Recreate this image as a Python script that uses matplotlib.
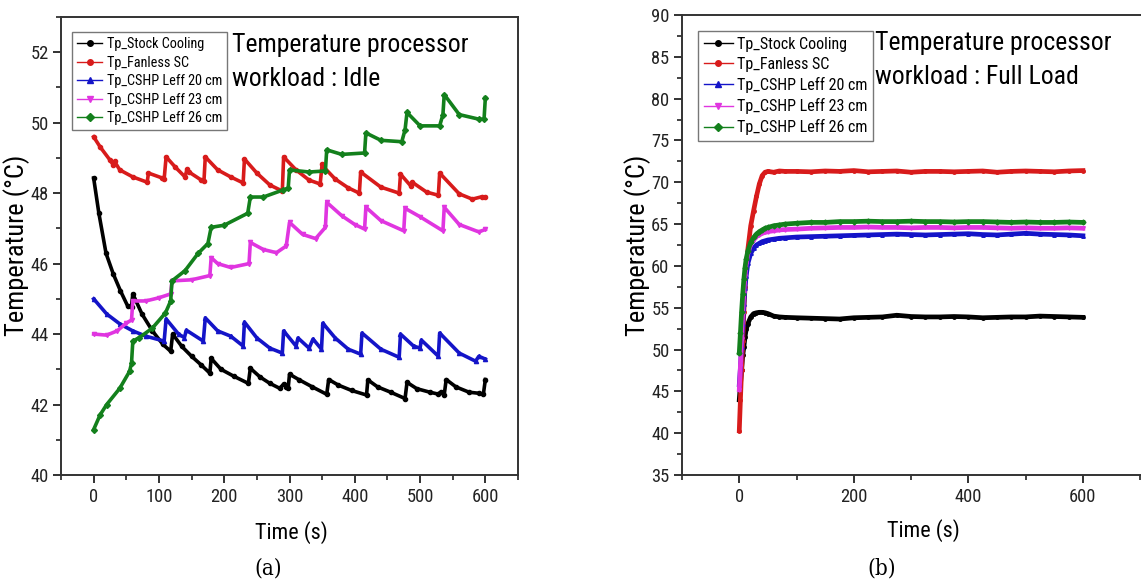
import matplotlib
matplotlib.use("Agg")
import matplotlib.pyplot as plt
from matplotlib import font_manager
from matplotlib.lines import Line2D
from matplotlib.ticker import MultipleLocator

# the scan uses a narrow sans; take a condensed face if one is installed
condensed = {}
for f in font_manager.fontManager.ttflist:
    st = f.stretch
    if st in ("condensed", "semi-condensed", "extra-condensed", "ultra-condensed") or \
            (isinstance(st, int) and st < 500) or "Narrow" in f.name or "Condensed" in f.name:
        condensed.setdefault(f.name, f.fname)
family, stretch = "Liberation Sans", "normal"
for fam in ["Liberation Sans Narrow", "Roboto Condensed", "Open Sans Condensed",
            "Roboto", "Open Sans", "Noto Sans", "Liberation Sans", "DejaVu Sans"]:
    if fam in condensed:
        family, stretch = fam, "condensed"
        break
plt.rcParams["font.family"] = [family, "DejaVu Sans"]
plt.rcParams["font.stretch"] = stretch

labels = ["Tp_Stock Cooling", "Tp_Fanless SC", "Tp_CSHP Leff 20 cm",
          "Tp_CSHP Leff 23 cm", "Tp_CSHP Leff 26 cm"]
colors = ["#000000", "#d81b1b", "#1414c8", "#e035e0", "#13801c"]
markers = ["o", "o", "^", "v", "D"]

# ---- (a) idle workload ----
t_stock = [0, 8, 19, 30, 41, 52, 58, 60, 74, 90, 106, 118, 121, 135, 150, 165, 178, 180,
           195, 215, 237, 240, 255, 270, 285, 291, 295, 298, 300, 315, 335, 357, 360,
           375, 395, 418, 420, 435, 455, 477, 480, 495, 515, 527, 532, 537, 540, 555,
           575, 590, 597, 600]
T_stock = [48.43, 47.43, 46.29, 45.71, 45.23, 44.8, 44.78, 45.14, 44.57, 44.09, 43.71,
           43.51, 44.0, 43.65, 43.37, 43.12, 42.89, 43.31, 43.0, 42.8, 42.6, 43.03, 42.78,
           42.6, 42.46, 42.58, 42.5, 42.47, 42.86, 42.7, 42.5, 42.29, 42.71, 42.55, 42.4,
           42.27, 42.7, 42.5, 42.35, 42.17, 42.63, 42.45, 42.35, 42.3, 42.35, 42.28,
           42.71, 42.5, 42.35, 42.32, 42.3, 42.71]

t_fanless = [0, 10, 25, 30, 32, 40, 60, 82, 84, 105, 108, 111, 125, 140, 143, 146, 165,
             169, 171, 190, 210, 229, 231, 250, 270, 289, 291, 310, 330, 347, 350, 352,
             370, 390, 407, 409, 440, 468, 470, 486, 488, 510, 528, 530, 560, 580, 595, 600]
T_fanless = [49.6, 49.31, 48.94, 48.8, 48.9, 48.66, 48.46, 48.31, 48.57, 48.43, 48.4,
             49.03, 48.74, 48.46, 48.68, 48.6, 48.37, 48.35, 49.03, 48.66, 48.46, 48.29,
             48.97, 48.57, 48.23, 48.06, 49.03, 48.66, 48.37, 48.26, 48.83, 48.75, 48.4,
             48.15, 48.0, 48.6, 48.17, 48.0, 48.54, 48.2, 48.31, 48.03, 47.94, 48.57,
             47.98, 47.83, 47.9, 47.89]

t_l20 = [0, 20, 40, 60, 80, 108, 111, 130, 139, 142, 168, 171, 190, 210, 229, 231, 250,
         270, 289, 291, 310, 313, 330, 336, 349, 351, 370, 390, 409, 411, 440, 468, 470,
         490, 500, 502, 528, 530, 560, 585, 590, 600]
T_l20 = [45.0, 44.57, 44.29, 44.09, 43.94, 43.8, 44.43, 44.0, 43.9, 44.11, 43.8, 44.46,
         44.09, 43.94, 43.66, 44.34, 43.89, 43.6, 43.46, 44.09, 43.66, 43.89, 43.6, 43.86,
         43.57, 44.31, 43.89, 43.57, 43.43, 44.03, 43.57, 43.34, 44.0, 43.66, 43.6, 43.83,
         43.37, 44.03, 43.46, 43.23, 43.37, 43.29]

t_l23 = [0, 20, 36, 50, 58, 60, 80, 100, 118, 120, 150, 178, 180, 190, 210, 238, 240, 260,
         280, 295, 300, 320, 340, 355, 357, 380, 400, 415, 417, 440, 475, 477, 500, 535,
         537, 560, 590, 600]
T_l23 = [44.0, 43.97, 44.09, 44.31, 44.4, 44.94, 44.94, 45.03, 45.14, 45.51, 45.54, 45.66,
         46.17, 46.0, 45.89, 46.0, 46.6, 46.4, 46.31, 46.5, 47.17, 46.83, 46.71, 47.03,
         47.74, 47.36, 47.11, 46.98, 47.6, 47.22, 46.93, 47.57, 47.33, 46.93, 47.6, 47.11,
         46.9, 46.97]

t_l26 = [0, 10, 20, 40, 55, 58, 60, 70, 90, 110, 118, 120, 140, 160, 175, 180, 200, 236,
         240, 260, 290, 298, 300, 330, 355, 357, 380, 415, 417, 440, 472, 477, 480, 500,
         530, 535, 537, 560, 590, 598, 600]
T_l26 = [41.29, 41.71, 42.0, 42.46, 42.94, 43.17, 43.8, 43.9, 44.17, 44.6, 44.94, 45.51,
         45.8, 46.29, 46.57, 47.03, 47.09, 47.43, 47.89, 47.89, 48.09, 48.14, 48.66, 48.6,
         48.63, 49.23, 49.1, 49.14, 49.71, 49.5, 49.46, 49.8, 50.29, 49.91, 49.91, 50.23,
         50.8, 50.23, 50.1, 50.1, 50.71]

# ---- (b) full load ----
t_full = [0, 2, 4, 6, 8, 10, 12, 15, 20, 25, 30, 35, 40, 45, 50, 60, 70, 80, 100, 125,
          150, 175, 200, 225, 250, 275, 300, 325, 350, 375, 400, 425, 450, 475, 500, 525,
          550, 575, 600]
F_stock = [44.0, 45.8, 47.5, 49.3, 50.3, 51.5, 52.4, 53.1, 53.9, 54.3, 54.4, 54.45, 54.45,
           54.4, 54.3, 54.0, 53.9, 53.85, 53.8, 53.75, 53.7, 53.65, 53.8, 53.85, 53.9,
           54.1, 53.95, 53.9, 53.9, 53.95, 53.9, 53.8, 53.85, 53.9, 53.9, 54.0, 53.95,
           53.9, 53.85]
F_fanless = [40.3, 44.0, 47.5, 51.0, 54.5, 57.5, 59.5, 62.0, 64.8, 66.6, 68.3, 69.8, 70.8,
             71.2, 71.3, 71.2, 71.35, 71.3, 71.3, 71.25, 71.35, 71.3, 71.4, 71.25, 71.3,
             71.35, 71.2, 71.3, 71.3, 71.25, 71.3, 71.35, 71.2, 71.3, 71.35, 71.3, 71.25,
             71.35, 71.4]
F_l20 = [45.8, 47.8, 50.3, 53.0, 55.4, 57.4, 58.8, 60.3, 61.5, 62.1, 62.5, 62.7, 62.9,
         63.0, 63.1, 63.2, 63.3, 63.35, 63.45, 63.5, 63.55, 63.6, 63.65, 63.7, 63.75,
         63.8, 63.75, 63.7, 63.75, 63.8, 63.85, 63.75, 63.7, 63.8, 63.9, 63.8, 63.75,
         63.7, 63.6]
F_l23 = [45.2, 48.0, 51.3, 54.3, 56.8, 58.8, 60.2, 61.5, 62.6, 63.1, 63.5, 63.7, 63.9,
         64.0, 64.1, 64.2, 64.3, 64.35, 64.4, 64.5, 64.55, 64.6, 64.6, 64.65, 64.6, 64.6,
         64.55, 64.6, 64.6, 64.55, 64.6, 64.6, 64.55, 64.5, 64.55, 64.5, 64.5, 64.55, 64.5]
F_l26 = [49.6, 52.0, 54.5, 56.6, 58.4, 59.8, 60.8, 61.8, 62.8, 63.4, 63.8, 64.1, 64.3,
         64.5, 64.6, 64.8, 64.9, 65.0, 65.1, 65.2, 65.2, 65.3, 65.3, 65.35, 65.3, 65.3,
         65.35, 65.3, 65.3, 65.25, 65.3, 65.3, 65.25, 65.2, 65.25, 65.2, 65.2, 65.25, 65.2]

idle = [(t_stock, T_stock), (t_fanless, T_fanless), (t_l20, T_l20), (t_l23, T_l23),
        (t_l26, T_l26)]
full = [F_stock, F_fanless, F_l20, F_l23, F_l26]

W, H = 1141, 584
fig = plt.figure(figsize=(W / 100, H / 100), dpi=100)
renderer = fig.canvas.get_renderer()


def fit_size(s, target_px, cap):
    # font size that makes s about target_px wide, but not above cap
    t = fig.text(0, 0, s, fontsize=10)
    w = t.get_window_extent(renderer).width
    t.remove()
    return min(cap, 10 * target_px / w)


fs_tick = fit_size("100", 27, 14)
fs_leg1 = fit_size("Tp_CSHP Leff 20 cm", 115, 10.5)
fs_leg2 = fit_size("Tp_CSHP Leff 20 cm", 130, 12)
fs_note = fit_size("Temperature processor", 236, 21)
fs_xlab = fit_size("Time (s)", 72, 16.5)
fs_ylab = fit_size("Temperature (\u00b0C)", 180, 19.5)

ax1 = fig.add_axes([61 / W, 109 / H, 457 / W, 458 / H])
ax2 = fig.add_axes([682 / W, 109 / H, 504 / W, 460 / H])

for (t, T), c, m in zip(idle, colors, markers):
    ax1.plot(t, T, color=c, lw=2.6, marker=m, ms=3)

for T, c, m in zip(full, colors, markers):
    ax2.plot(t_full, T, color=c, lw=3.4, marker=m, ms=2.5)


def style(ax, xmaj, xmin, ymaj, ymin):
    ax.xaxis.set_major_locator(MultipleLocator(xmaj))
    ax.xaxis.set_minor_locator(MultipleLocator(xmin))
    ax.yaxis.set_major_locator(MultipleLocator(ymaj))
    ax.yaxis.set_minor_locator(MultipleLocator(ymin))
    ax.tick_params(which="major", direction="out", length=6, width=1.3,
                   labelsize=fs_tick, colors="#222222", pad=3)
    ax.tick_params(which="minor", direction="out", length=3.5, width=1.2, colors="#222222")
    for s in ax.spines.values():
        s.set_linewidth(1.4)
        s.set_color("#333333")


ax1.set_xlim(-50, 650)
ax1.set_ylim(40, 53)
style(ax1, 100, 50, 2, 1)

ax2.set_xlim(-100, 780)
ax2.set_ylim(35, 90)
style(ax2, 200, 100, 5, 2.5)
ax2.spines["right"].set_visible(False)

handles = [Line2D([], [], color=c, lw=1, marker=m, ms=4) for c, m in zip(colors, markers)]
for ax, (lx, ly), fs in [(ax1, (0.024, 0.967), fs_leg1), (ax2, (0.032, 0.965), fs_leg2)]:
    leg = ax.legend(handles, labels, loc="upper left", bbox_to_anchor=(lx, ly),
                    fontsize=fs, frameon=True, fancybox=False, framealpha=1,
                    edgecolor="#777777", borderpad=0.35, labelspacing=0.32,
                    handlelength=1.8, handletextpad=0.3, borderaxespad=0)
    leg.get_frame().set_linewidth(1.0)

ax1.text((232 - 61) / 457, (475 - 33) / 458, "Temperature processor\nworkload : Idle",
         transform=ax1.transAxes, ha="left", va="top", fontsize=fs_note, linespacing=1.5)
ax2.text((875 - 682) / 504, (475 - 31) / 460, "Temperature processor\nworkload : Full Load",
         transform=ax2.transAxes, ha="left", va="top", fontsize=fs_note, linespacing=1.5)

fig.text(17 / W, 1 - 245 / H, "Temperature (\u00b0C)", rotation=90, ha="center",
         va="center", fontsize=fs_ylab)
fig.text(638 / W, 1 - 245 / H, "Temperature (\u00b0C)", rotation=90, ha="center",
         va="center", fontsize=fs_ylab)
fig.text(291 / W, 1 - 533 / H, "Time (s)", ha="center", va="center", fontsize=fs_xlab)
fig.text(923 / W, 1 - 531 / H, "Time (s)", ha="center", va="center", fontsize=fs_xlab)

fig.text(268 / W, 1 - 568 / H, "(a)", ha="center", va="center", fontsize=16,
         family="DejaVu Serif")
fig.text(882 / W, 1 - 568 / H, "(b)", ha="center", va="center", fontsize=16,
         family="DejaVu Serif")

fig.savefig("out.png", dpi=100)
